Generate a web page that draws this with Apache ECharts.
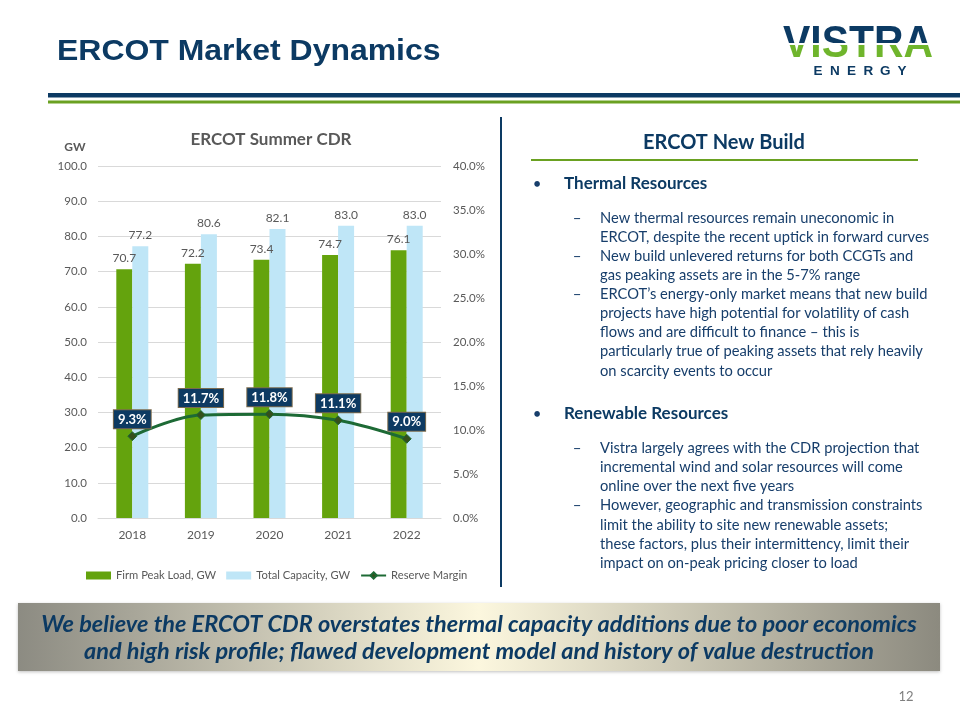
<!DOCTYPE html>
<html>
<head>
<meta charset="utf-8">
<script src="https://cdn.jsdelivr.net/npm/echarts@6/dist/echarts.min.js"></script>
<style>
html,body{margin:0;padding:0;background:#fff;}
#wrap{position:relative;width:960px;height:720px;}
#c{width:960px;height:720px;}
#logo{position:absolute;left:783px;top:17px;height:44px;line-height:44px;font:bold 44px "Liberation Sans",Arial,sans-serif;
  transform:scaleX(0.93);transform-origin:left top;white-space:nowrap;
  background:linear-gradient(to bottom,#0c3a63 0px,#0c3a63 26.5px,#ffffff 26.5px,#ffffff 28px,#6fb52c 28px,#6fb52c 44px);
  -webkit-background-clip:text;background-clip:text;color:transparent;-webkit-text-fill-color:transparent;}
</style>
</head>
<body>
<div id="wrap">
<div id="c"></div>
<div id="logo">VISTRA</div>
</div>
<script>
const categories = ['2018', '2019', '2020', '2021', '2022'];
const firmPeakLoad = [70.7, 72.2, 73.4, 74.7, 76.1];
const totalCapacity = [77.2, 80.6, 82.1, 83.0, 83.0];
const reserveMargin = [9.3, 11.7, 11.8, 11.1, 9.0];

const thermalLines = [
  ['–', 'New thermal resources remain uneconomic in'],
  ['', 'ERCOT, despite the recent uptick in forward curves'],
  ['–', 'New build unlevered returns for both CCGTs and'],
  ['', 'gas peaking assets are in the 5-7% range'],
  ['–', 'ERCOT’s energy-only market means that new build'],
  ['', 'projects have high potential for volatility of cash'],
  ['', 'flows and are difficult to finance – this is'],
  ['', 'particularly true of peaking assets that rely heavily'],
  ['', 'on scarcity events to occur']
];
const renewableLines = [
  ['–', 'Vistra largely agrees with the CDR projection that'],
  ['', 'incremental wind and solar resources will come'],
  ['', 'online over the next five years'],
  ['–', 'However, geographic and transmission constraints'],
  ['', 'limit the ability to site new renewable assets;'],
  ['', 'these factors, plus their intermittency, limit their'],
  ['', 'impact on on-peak pricing closer to load']
];
const bannerLines = [
  'We believe the ERCOT CDR overstates thermal capacity additions due to poor economics',
  'and high risk profile; flawed development model and history of value destruction'
];

const NAVY = '#0c3a63';
const TXT = '#173e6b';
const GREEN = '#6aa121';
const GREY = '#595959';
const FONT = 'Lato, "Open Sans", sans-serif';

function txt(x, y, text, o, extra) {
  return Object.assign({
    type: 'text', x: x, y: y, silent: true,
    style: Object.assign({
      text: text, fill: TXT, font: '15px ' + FONT,
      textAlign: 'left', textVerticalAlign: 'middle'
    }, o || {})
  }, extra || {});
}

const graphics = [];
// Title
graphics.push(txt(57, 52, 'ERCOT Market Dynamics', {fill: NAVY, font: 'bold 30px "Liberation Sans", Arial, sans-serif'}, {scaleX: 1.065}));
// header rules
graphics.push({type: 'rect', silent: true, shape: {x: 48, y: 93, width: 912, height: 4.5}, style: {fill: NAVY}});
graphics.push({type: 'rect', silent: true, shape: {x: 48, y: 100.5, width: 912, height: 3}, style: {fill: GREEN}});
// logo subtitle
const energy = ['E', 'N', 'E', 'R', 'G', 'Y'];
energy.forEach(function (ch, i) {
  graphics.push(txt(818 + i * 16.8, 71, ch, {fill: NAVY, font: 'bold 13.5px "Liberation Sans", Arial, sans-serif', textAlign: 'center'}));
});
// vertical divider
graphics.push({type: 'rect', silent: true, shape: {x: 500, y: 117, width: 2, height: 470}, style: {fill: NAVY}});
// chart title & GW
graphics.push(txt(271, 140, 'ERCOT Summer CDR', {fill: GREY, font: 'bold 17px ' + FONT, textAlign: 'center'}));
graphics.push(txt(75, 147, 'GW', {fill: GREY, font: 'bold 12px ' + FONT, textAlign: 'center'}));
// right panel
graphics.push(txt(724, 143, 'ERCOT New Build', {fill: NAVY, font: 'bold 20px ' + FONT, textAlign: 'center'}));
graphics.push({type: 'rect', silent: true, shape: {x: 531, y: 159, width: 387, height: 2}, style: {fill: GREEN}});
graphics.push(txt(537, 184, '•', {fill: TXT, font: '15px ' + FONT, textAlign: 'center'}));
graphics.push(txt(564, 184, 'Thermal Resources', {fill: NAVY, font: 'bold 17px ' + FONT}));
thermalLines.forEach(function (l, i) {
  const y = 218 + i * 19.1;
  if (l[0]) graphics.push(txt(577, y, l[0], {textAlign: 'center'}));
  graphics.push(txt(600, y, l[1], {font: '14.7px ' + FONT}));
});
graphics.push(txt(537, 414, '•', {fill: TXT, font: '15px ' + FONT, textAlign: 'center'}));
graphics.push(txt(564, 414, 'Renewable Resources', {fill: NAVY, font: 'bold 17px ' + FONT}));
renewableLines.forEach(function (l, i) {
  const y = 448 + i * 19.2;
  if (l[0]) graphics.push(txt(577, y, l[0], {textAlign: 'center'}));
  graphics.push(txt(600, y, l[1], {font: '14.7px ' + FONT}));
});
// banner
graphics.push({type: 'rect', silent: true, shape: {x: 18, y: 603, width: 922, height: 68},
  style: {fill: {type: 'linear', x: 0, y: 0, x2: 1, y2: 0, colorStops: [
    {offset: 0, color: '#8c8b82'}, {offset: 0.5, color: '#fcf7de'}, {offset: 1, color: '#8c8a7f'}]},
    shadowBlur: 3, shadowColor: 'rgba(0,0,0,0.25)', shadowOffsetY: 1}});
bannerLines.forEach(function (t, i) {
  graphics.push(txt(479, 624 + i * 27, t, {fill: NAVY, font: 'italic bold 23.5px ' + FONT, textAlign: 'center'}));
});
// page number
graphics.push(txt(906, 697, '12', {fill: '#7f7f7f', font: '13px ' + FONT, textAlign: 'center'}));

const chart = echarts.init(document.getElementById('c'));
chart.setOption({
  animation: false,
  textStyle: {fontFamily: FONT},
  grid: {left: 98, right: 519, top: 166, bottom: 202, containLabel: false},
  legend: {
    left: 81, top: 565, itemWidth: 25, itemHeight: 8, itemGap: 10,
    textStyle: {color: GREY, fontSize: 11.2, fontFamily: FONT},
    data: [
      {name: 'Firm Peak Load, GW', icon: 'rect'},
      {name: 'Total Capacity, GW', icon: 'rect'},
      {name: 'Reserve Margin'}
    ]
  },
  xAxis: {
    type: 'category', data: categories,
    axisLine: {lineStyle: {color: '#d9d9d9'}}, axisTick: {show: false},
    axisLabel: {color: GREY, fontSize: 12, margin: 11}
  },
  yAxis: [
    {type: 'value', min: 0, max: 100, interval: 10,
      axisLabel: {color: GREY, fontSize: 11.5, margin: 11, formatter: function (v) { return v.toFixed(1); }},
      splitLine: {lineStyle: {color: '#d9d9d9'}}, axisLine: {show: false}, axisTick: {show: false}},
    {type: 'value', min: 0, max: 40, interval: 5, position: 'right',
      axisLabel: {color: GREY, fontSize: 11.5, margin: 12, formatter: function (v) { return v.toFixed(1) + '%'; }},
      splitLine: {show: false}, axisLine: {show: false}, axisTick: {show: false}}
  ],
  series: [
    {name: 'Firm Peak Load, GW', type: 'bar', data: firmPeakLoad, barWidth: 16, barGap: '0%',
      itemStyle: {color: '#64a30d'},
      label: {show: true, position: 'top', distance: 5, color: GREY, fontSize: 12, formatter: function (p) { return p.value.toFixed(1); }}},
    {name: 'Total Capacity, GW', type: 'bar', data: totalCapacity, barWidth: 16, barGap: '0%',
      itemStyle: {color: '#bfe6f7'},
      label: {show: true, position: 'top', distance: 5, color: GREY, fontSize: 12, formatter: function (p) { return p.value.toFixed(1); }}},
    {name: 'Reserve Margin', type: 'line', yAxisIndex: 1, data: reserveMargin, smooth: 0.35,
      symbol: 'diamond', symbolSize: 9,
      lineStyle: {color: '#1d6a35', width: 3},
      itemStyle: {color: '#34501c', borderColor: '#1d6a35', borderWidth: 1},
      label: {show: true, position: 'top', distance: 3, color: '#ffffff', fontWeight: 'bold', fontSize: 13,
        backgroundColor: '#0d3a62', borderColor: '#7b6b4e', borderWidth: 1, padding: [3, 4, 2, 4],
        formatter: function (p) { return p.value.toFixed(1) + '%'; }}}
  ],
  graphic: {elements: graphics}
});
</script>
</body>
</html>
